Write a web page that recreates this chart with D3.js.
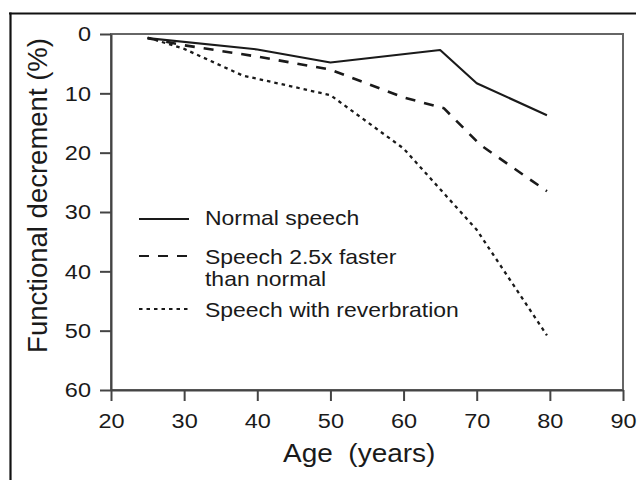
<!DOCTYPE html>
<html>
<head>
<meta charset="utf-8">
<script src="https://cdn.jsdelivr.net/npm/d3@7"></script>
<style>
  html, body { margin: 0; padding: 0; background: #fff; }
  svg text { font-family: "Liberation Sans", Arial, Helvetica, sans-serif; fill: #1a1a1a; }
</style>
</head>
<body>
<svg id="chart" width="637" height="480"></svg>
<script>
// Age (years) at each measured point, per condition
const agesNormal = [25, 40, 50, 65, 70, 79.6];
const agesFast   = [25, 30, 40, 50, 60, 65.5, 70.5, 79.6];
const agesReverb = [25, 30, 38, 50, 60, 70, 79.6];

// Functional decrement (%) for each condition
const normalSpeech = [0.7, 2.6, 4.8, 2.7, 8.3, 13.7];
const fastSpeech   = [0.7, 1.9, 3.8, 6.0, 10.7, 12.5, 18.7, 26.5];
const reverbSpeech = [0.6, 2.5, 7.0, 10.3, 19.3, 33.0, 50.8];

const xTicks = [20, 30, 40, 50, 60, 70, 80, 90];
const yTicks = [0, 10, 20, 30, 40, 50, 60];

const legendLabels = [
  ["Normal speech"],
  ["Speech 2.5x faster", "than normal"],
  ["Speech with reverbration"]
];
const dashStyles = [null, "10,9", "3.5,4"];

const svg = d3.select("#chart");
const plot = { left: 111, right: 623, top: 34, bottom: 390 };
const sx = 1.12; // horizontal stretch applied to upright labels

const x = d3.scaleLinear().domain([20, 90]).range([plot.left, plot.right]);
const y = d3.scaleLinear().domain([0, 60]).range([plot.top, plot.bottom]);

// outer border (top and left edges)
svg.append("line").attr("x1", 9).attr("x2", 636).attr("y1", 13.5).attr("y2", 13.5)
  .attr("stroke", "#111").attr("stroke-width", 2.2);
svg.append("line").attr("x1", 10.5).attr("x2", 10.5).attr("y1", 12.5).attr("y2", 480)
  .attr("stroke", "#111").attr("stroke-width", 2.2);

// plot frame
svg.append("rect")
  .attr("x", plot.left).attr("y", plot.top)
  .attr("width", plot.right - plot.left).attr("height", plot.bottom - plot.top)
  .attr("fill", "none").attr("stroke", "#666").attr("stroke-width", 2);

// y axis
const yAxis = svg.append("g")
  .attr("transform", `translate(${plot.left},0)`)
  .call(d3.axisLeft(y).tickValues(yTicks).tickSize(11).tickSizeOuter(0).tickPadding(9));
yAxis.select(".domain").attr("stroke", "#444").attr("stroke-width", 2);
yAxis.selectAll(".tick line").attr("stroke", "#444").attr("stroke-width", 2);
yAxis.selectAll(".tick text")
  .attr("font-size", 21).attr("font-family", null)
  .attr("x", -20 / sx).attr("transform", `scale(${sx},1)`).attr("fill", "#1a1a1a");

// x axis
const xAxis = svg.append("g")
  .attr("transform", `translate(0,${plot.bottom})`)
  .call(d3.axisBottom(x).tickValues(xTicks).tickSize(11).tickSizeOuter(0).tickPadding(12));
xAxis.select(".domain").attr("stroke", "#444").attr("stroke-width", 2);
xAxis.selectAll(".tick line").attr("stroke", "#444").attr("stroke-width", 2);
xAxis.selectAll(".tick text")
  .attr("font-size", 21).attr("font-family", null)
  .attr("transform", `scale(${sx},1)`).attr("fill", "#1a1a1a");

// axis titles
svg.append("text")
  .attr("transform", `translate(283,462) scale(${sx},1)`)
  .attr("font-size", 25)
  .style("white-space", "pre")
  .text("Age  (years)");

svg.append("text")
  .attr("transform", "translate(47,195.5) rotate(-90)")
  .attr("text-anchor", "middle")
  .attr("font-size", 27.5)
  .text("Functional decrement (%)");

// data lines
const series = [
  { ages: agesNormal, values: normalSpeech, width: 2.1 },
  { ages: agesFast,   values: fastSpeech,   width: 2.6 },
  { ages: agesReverb, values: reverbSpeech, width: 2.3 }
];
const line = d3.line().x(d => x(d[0])).y(d => y(d[1]));

series.forEach((s, i) => {
  svg.append("path")
    .datum(s.ages.map((a, k) => [a, s.values[k]]))
    .attr("d", line)
    .attr("fill", "none")
    .attr("stroke", "#1a1a1a")
    .attr("stroke-width", s.width)
    .attr("stroke-linejoin", "round")
    .attr("stroke-dasharray", dashStyles[i]);
});

// legend
const legendRows = [
  { lineY: 219, baseline: 224.5 },
  { lineY: 256, baseline: 264 },
  { lineY: 309, baseline: 316.5 }
];
legendRows.forEach((r, i) => {
  svg.append("line")
    .attr("x1", 139).attr("x2", 189)
    .attr("y1", r.lineY).attr("y2", r.lineY)
    .attr("stroke", "#1a1a1a")
    .attr("stroke-width", i === 2 ? 1.8 : 2.2)
    .attr("stroke-dasharray", dashStyles[i]);
  legendLabels[i].forEach((t, j) => {
    svg.append("text")
      .attr("transform", `translate(205,${r.baseline + j * 21.5}) scale(${sx},1)`)
      .attr("font-size", 20.5)
      .text(t);
  });
});
</script>
</body>
</html>
